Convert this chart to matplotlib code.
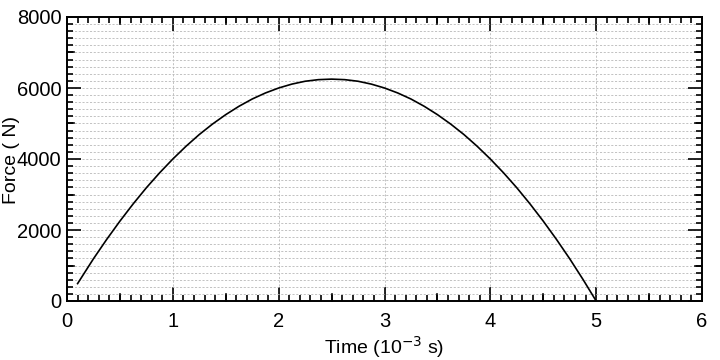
import numpy as np
import matplotlib.pyplot as plt
from matplotlib.ticker import MultipleLocator

plt.rcParams['font.family'] = ['Liberation Sans', 'DejaVu Sans']

# time (ms) and force (N)
time_ms = [0.1, 0.25, 0.375, 0.5, 0.625, 0.75, 0.875, 1.0, 1.125, 1.25, 1.375,
           1.5, 1.625, 1.75, 1.875, 2.0, 2.125, 2.25, 2.375, 2.5, 2.625, 2.75,
           2.875, 3.0, 3.125, 3.25, 3.375, 3.5, 3.625, 3.75, 3.875, 4.0, 4.125,
           4.25, 4.375, 4.5, 4.625, 4.75, 4.875, 5.0]
force_n = [490, 1190, 1735, 2250, 2735, 3190, 3610, 4000, 4360, 4690, 4985,
           5250, 5485, 5690, 5860, 6000, 6110, 6190, 6235, 6250, 6235, 6190,
           6110, 6000, 5860, 5690, 5485, 5250, 4985, 4690, 4360, 4000, 3610,
           3190, 2735, 2250, 1735, 1190, 610, 0]

fig = plt.figure(figsize=(7.2, 3.6), dpi=100)
ax = fig.add_axes([67/720, 1 - 301/360, 635/720, 284/360])

ax.plot(time_ms, force_n, color='black', lw=1.2)

ax.set_xlim(0, 6)
ax.set_ylim(0, 8000)
ax.xaxis.set_major_locator(MultipleLocator(1))
ax.xaxis.set_minor_locator(MultipleLocator(0.1))
ax.yaxis.set_major_locator(MultipleLocator(2000))
ax.yaxis.set_minor_locator(MultipleLocator(200))

ax.tick_params(which='both', direction='in', top=True, right=True,
               labelsize=14.5, width=1.2)
ax.tick_params(which='major', length=10)
ax.tick_params(which='minor', length=4.5)
ax.tick_params(axis='x', which='major', pad=8)
ax.tick_params(axis='y', which='major', pad=4)

# medium ticks at half-majors
for v in np.arange(0.5, 6, 1):
    ax.plot([v, v], [0, 200], color='black', lw=1.2, clip_on=False)
    ax.plot([v, v], [8000, 7800], color='black', lw=1.2, clip_on=False)
for v in np.arange(1000, 8000, 2000):
    ax.plot([0, 0.065], [v, v], color='black', lw=1.2, clip_on=False)
    ax.plot([6, 5.935], [v, v], color='black', lw=1.2, clip_on=False)

ax.yaxis.grid(True, which='both', color='#b8b8b8', ls=(0, (2.5, 2)), lw=0.6)
ax.xaxis.grid(True, which='major', color='#b8b8b8', ls=(0, (2.5, 2)), lw=0.6)
ax.set_axisbelow(True)

for s in ax.spines.values():
    s.set_linewidth(1.4)

fig.text(384/720, 1 - 347/360, 'Time (10$^{-3}$ s)', fontsize=14,
         ha='center', va='center')
fig.text(12/720, 1 - 160/360, 'Force ( N)', fontsize=14, rotation=90,
         ha='center', va='center')

fig.savefig('out.png', dpi=100)
